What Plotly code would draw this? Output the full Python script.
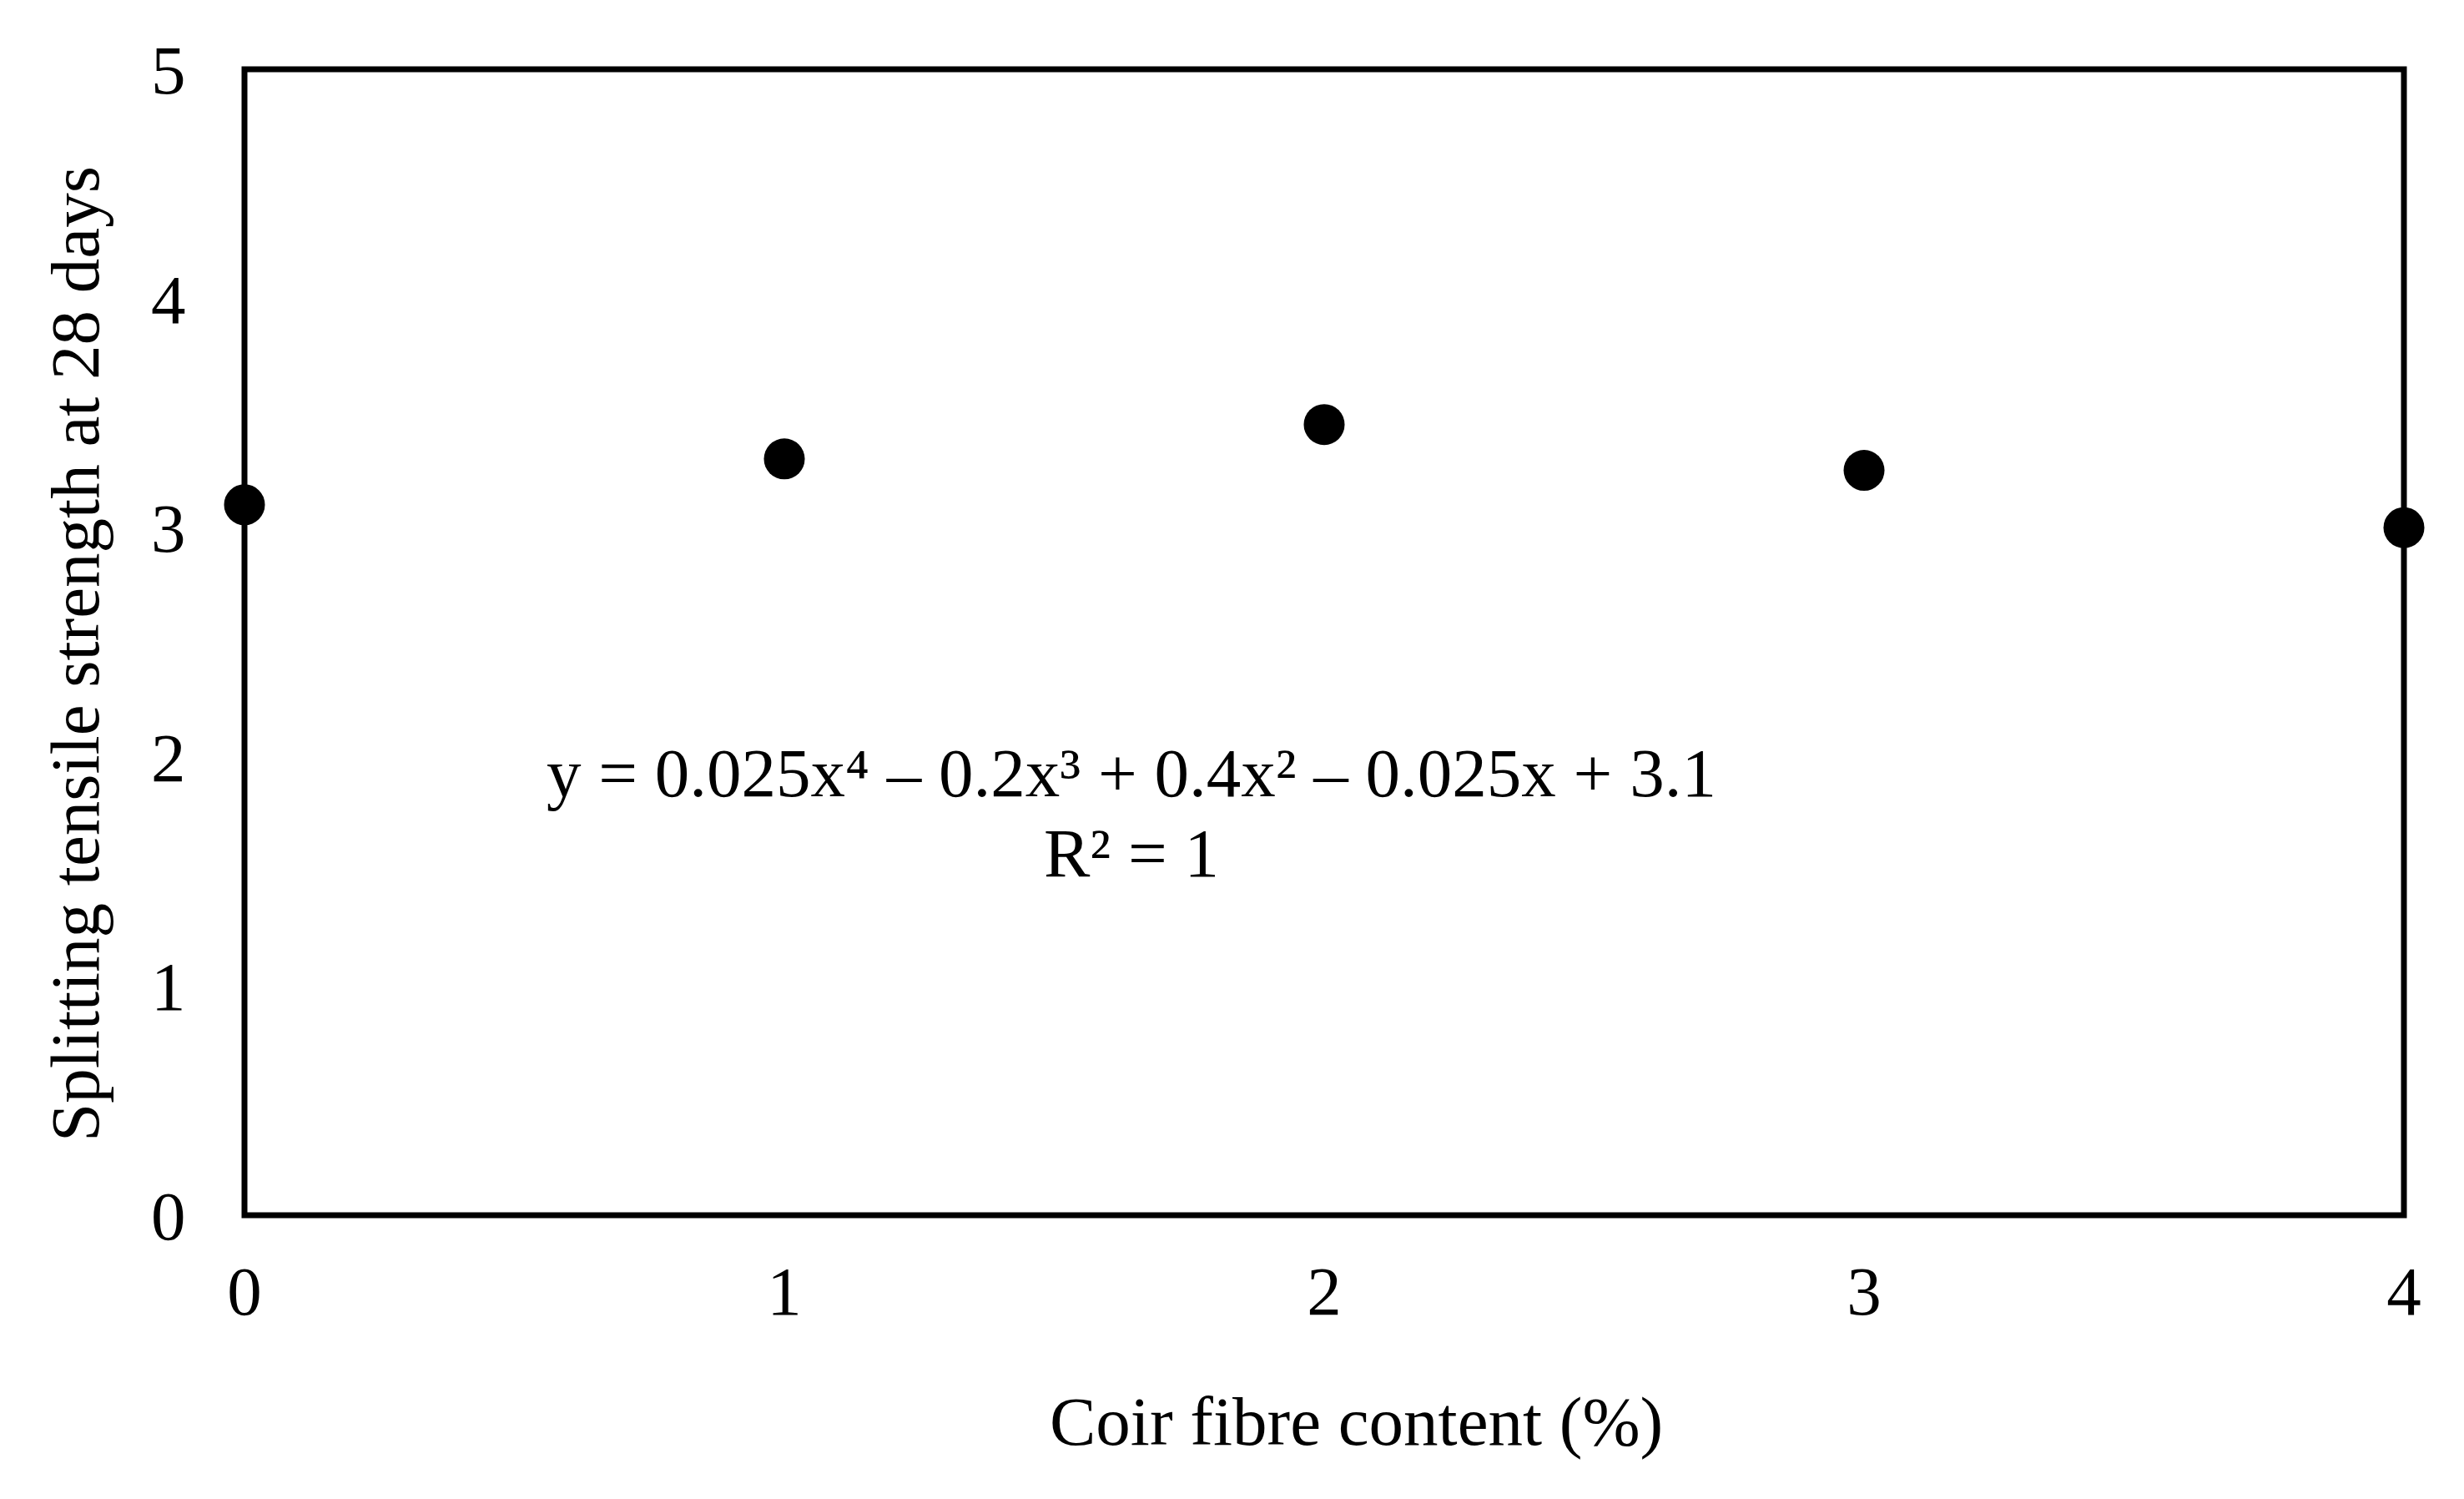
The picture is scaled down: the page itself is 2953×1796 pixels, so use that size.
import plotly.graph_objects as go

# Data
fibre_content = [0, 1, 2, 3, 4]
tensile_strength = [3.1, 3.3, 3.45, 3.25, 3.0]
x_ticks = [0, 1, 2, 3, 4]
y_ticks = [0, 1, 2, 3, 4, 5]
x_title = "Coir fibre content (%)"
y_title = "Splitting tensile strength at 28 days"
eq_text = "y = 0.025x⁴ – 0.2x³ + 0.4x² – 0.025x + 3.1"
r2_text = "R² = 1"

FONT = "Liberation Serif, Times New Roman, serif"
FS = 83

fig = go.Figure()
fig.add_trace(go.Scatter(
    x=fibre_content, y=tensile_strength, mode="markers",
    marker=dict(size=49, color="black"),
    cliponaxis=False, showlegend=False,
))

fig.update_layout(
    width=2937, height=1780,
    margin=dict(l=285, r=64, t=75, b=332),
    paper_bgcolor="white", plot_bgcolor="white",
    font=dict(family=FONT, size=FS, color="black"),
    showlegend=False,
    xaxis=dict(range=[0, 4], tickvals=x_ticks, showgrid=False, zeroline=False,
               showline=False, ticks="outside", ticklen=18,
               tickcolor="rgba(0,0,0,0)", tickfont=dict(family=FONT, size=FS)),
    yaxis=dict(range=[0, 5], tickvals=y_ticks, showgrid=False, zeroline=False,
               showline=False, ticks="outside", ticklen=53,
               tickcolor="rgba(0,0,0,0)", tickfont=dict(family=FONT, size=FS)),
    shapes=[dict(type="rect", xref="paper", yref="paper", x0=0, x1=1, y0=0, y1=1,
                 line=dict(color="black", width=7), layer="below")],
    annotations=[
        dict(text=x_title, xref="paper", yref="paper", x=0.5147, y=-0.18,
             showarrow=False, xanchor="center", yanchor="middle",
             font=dict(family=FONT, size=FS)),
        dict(text=y_title, xref="paper", yref="paper", x=-0.0784, y=0.4896,
             showarrow=False, xanchor="center", yanchor="middle", textangle=-90,
             font=dict(family=FONT, size=FS)),
        dict(text=eq_text, xref="x", yref="y", x=1.643, y=1.93,
             showarrow=False, xanchor="center", yanchor="middle",
             font=dict(family=FONT, size=FS)),
        dict(text=r2_text, xref="x", yref="y", x=1.643, y=1.58,
             showarrow=False, xanchor="center", yanchor="middle",
             font=dict(family=FONT, size=FS)),
    ],
)

fig.write_html("out.html")
